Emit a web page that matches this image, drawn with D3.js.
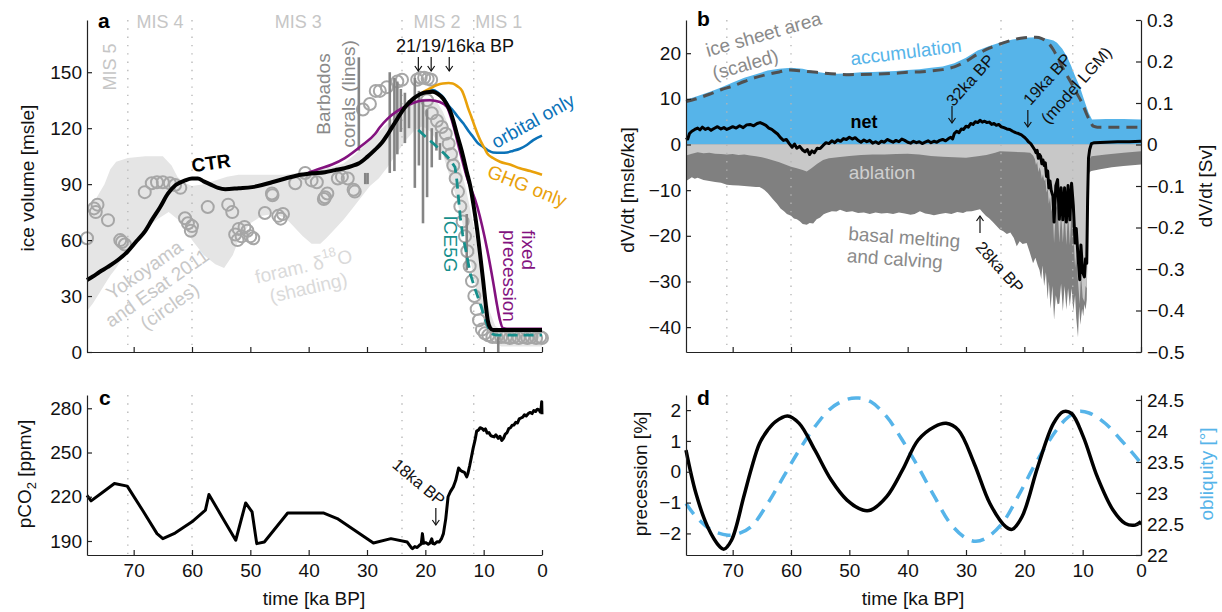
<!DOCTYPE html>
<meta charset="utf-8">
<style>
  body { margin: 0; background: #fff; }
  svg text { font-family: "Liberation Sans", Arial, Helvetica, sans-serif; }
  .axis path, .axis line { stroke: #222; stroke-width: 1.2; }
  .axis text { font-size: 19px; fill: #111; font-family: "Liberation Sans", Arial, sans-serif; }
</style>
<body>
<svg id="fig" width="1222" height="612"></svg>
<script src="https://cdn.jsdelivr.net/npm/d3@7"></script>
<script>
// ---------- data (ka BP, value) ----------
var xTicks = [70, 60, 50, 40, 30, 20, 10, 0];
var misBounds = [71, 60, 24, 11.7];
var misNames = [["MIS 4", 65.5], ["MIS 3", 41.8], ["MIS 2", 18], ["MIS 1", 7.4]];

// panel a: ice volume [msle]
var ctr = [[78,38.6],[77,40.5],[75.8,43],[74.5,45.5],[72.7,49.3],[71,54],[69.5,59.5],[68,65],[66.9,70.7],[65.5,77.5],[64.1,85],[62.8,89.5],[61.2,92],[60,93],[59,93],[58,91.5],[56.6,89.5],[55.5,88],[54.3,87.3],[52,87.8],[49.7,88.4],[48,89.5],[46.3,91],[44,93],[41.8,94.8],[39.5,95.8],[37.2,96.4],[35.5,97.5],[33.8,98.6],[32.5,99.8],[31.5,101],[30,104.5],[28.6,108.5],[27.5,112],[26.6,116],[25.8,120],[24.8,125],[24,129],[23,133],[22,136],[20.9,138.2],[19.8,139.3],[18.7,139.5],[17.8,138.3],[17,136],[16.4,133.2],[15.8,129.6],[15.2,124],[14.6,117],[14,110.5],[13.5,104.6],[12.9,96.5],[12.3,89],[11.7,78],[11.1,65],[10.6,52],[10.1,38.6],[9.7,27],[9.3,17],[8.9,13],[8.4,11.8],[0,11.8]];
var orbitalOnly = [[20.9,138.2],[19.8,139.6],[18.7,140.4],[17.8,139],[17,136.8],[16,132],[15.3,129.6],[14.4,126],[13.5,122.6],[12.6,118.5],[11.8,115.3],[11,112],[10.1,110],[9.2,108],[8.4,107],[7,106.8],[6,107],[5,107.8],[3.8,109],[2.6,111],[1.5,113.6],[0,116]];
var ghgOnly = [[20.9,138.2],[20,140],[19.2,141.3],[18,143.2],[17,144],[16,144.2],[15.3,144],[14.5,142.5],[13.7,140],[13.2,136],[12.7,131],[12.1,126],[11.5,120.6],[10.6,113.6],[9.9,109.5],[9.4,106.5],[8.4,104],[7.2,102],[5.5,100.5],[3.8,98.5],[2,97],[0,95]];
var fixedPrecession = [[40,96.2],[38.4,98],[36,100.5],[33.8,104],[31,110.5],[28.6,117],[27.8,120.5],[26.5,125],[24.9,129],[23.5,131.5],[22.1,133.5],[20.5,134.8],[19.2,135],[17.5,134],[16.3,131.4],[15.3,122.6],[14.1,108],[12.9,94],[11.1,78],[9.4,55],[8.4,38],[7.7,25],[7.2,17],[6.7,12.8],[6,12.5],[0,12.5]];
var ice5g = [[21.2,119],[20,115.5],[18.7,112],[17.5,108.5],[16.3,105],[15.5,102],[14.9,99],[14.6,92],[14.3,82],[14,72],[13.6,63],[12.9,52],[12.3,42],[11.5,34],[10.6,26],[9.8,18],[9.1,12],[8.4,9.5],[7.8,9],[0,9]];
var foramUpper = [[78,78],[76.5,82],[75,90],[74,98],[73,102],[71,104],[68,105],[65,105],[63.5,100],[62.5,94],[61.5,91],[60,89],[58,90],[56,92],[54,94],[52,95],[48,95],[44,95],[42,96],[40,97],[38,98],[36,99],[34,101],[32,106],[30,112],[28,118],[26,124],[24,130],[22,134],[20,136],[19,136],[18,134],[17,129],[16,121],[15,111],[14,99],[13,87],[12,72],[11,55],[10,38],[9,22],[8,14],[7,12],[4,12],[0,11]];
var foramLower = [[78,22],[77,26],[76,31],[75,36],[74,41],[73,45],[72,50],[71,55],[70,59],[68,66],[66,71],[64,75],[62,70],[60,60],[58,52],[56,47],[54.5,45],[53,52],[52,60],[50,69],[48,73],[46,74],[44,72],[42.5,67],[41,62],[39.5,58],[38,58],[37,61],[35.5,66],[34,71],[32.5,77],[31,83],[29.5,89],[28,93],[26.5,99],[25,106],[23.5,113],[21.8,119],[20.5,121],[19,118],[18,113],[17,106],[16,96],[15,86],[14,74],[13,60],[12,45],[11,30],[10,18],[9,9],[8,5],[7,3],[0,3]];
var yokoyama = [[78,61],[76.8,77],[76.2,79],[76.5,75],[74.4,70.7],[72.3,60],[72,59],[71.5,57.6],[68.1,85.7],[66.9,90.5],[66,91],[65,91],[63.8,90.5],[62.9,89.5],[62,88],[61.2,71.7],[60.7,69],[60,67.5],[60.2,65],[57.3,77.7],[53.8,79],[53.1,75],[52.6,63],[52,66],[51.5,62],[51,67],[50.5,65],[50,62],[49.5,61],[52.2,60],[47.5,74.5],[46.3,85],[46.2,84],[45.2,73],[44.8,71.5],[44.4,74],[42.3,90.5],[40.6,96],[39.5,92],[38.6,91],[37.2,83],[36.8,85],[37.4,82],[35,93],[34.3,94],[33.3,93],[32.3,87],[32.1,86],[30.7,130],[29.5,133],[28.5,140],[27.8,140],[26.6,142],[24.8,145],[24,146],[21.4,146],[20.8,147],[20.2,147],[19.6,146.5],[19,146],[19.7,135],[18.9,128],[18,124],[17.2,120.6],[16.5,117],[16,111.7],[15.6,106],[15.2,100],[14.8,93],[14.4,86],[14,78],[13.6,70],[13.2,62],[12.8,54],[12.4,46],[12,38],[11.6,30],[11.2,23],[10.8,17],[10.3,12],[9.8,10],[9.2,9],[8.5,8],[7.8,8],[7,8],[6.2,8],[5.5,7.5],[4.8,8],[4,7.5],[3.2,8],[2.5,7.5],[1.8,8],[1,7.5],[0.3,8],[0,7.5]];
var barbados = [[31.4,158,108],[30.3,96,90],[29.9,96,90],[26.1,150,96],[25.3,147,97],[24.8,145,106],[24.2,141,118],[23.5,139,112],[22.8,135,120],[21.8,147,88],[21.1,140,100],[20.4,135,69],[19.7,130,83],[18.9,120,99],[18.1,118,108],[17.5,112,103],[12.9,74,44],[7.5,8,0]];

// panel b: dV/dt [msle/ka]
var accumulation = [[78,9.8],[76,10.6],[74,11.5],[72,12.5],[70,13.6],[68,14.6],[66,15.4],[64,16.2],[62,16.6],[60,16.8],[58,16.6],[56,16],[54,15.6],[52,15.5],[50,15.6],[48,15.8],[46,15.9],[44,16],[42,16.1],[40,16.3],[38,16.5],[36,16.8],[34,17.1],[32,17.8],[30,19],[28,20.6],[26,21.6],[24,22.4],[22,23],[20,23.4],[18,23.5],[16,23.1],[15,22.8],[14.4,22.3],[13.5,21],[12.7,19.3],[12,17.3],[11.3,15],[10.5,12.7],[9.6,9.2],[9,7],[8.4,5.5],[6,5.6],[3,5.6],[0,5.5]];
var areaScaled = [[78,9.4],[76,10.1],[74,11],[72,12],[70,12.8],[68,13.8],[66,14.7],[64.2,15.3],[62,15.9],[60.2,16.3],[58,16.1],[55.6,15.8],[52,15.4],[50,15.3],[46,15.4],[42,15.6],[40,15.8],[38,15.9],[36,16.1],[34,16.4],[32,17],[30,18.2],[28,19.8],[26,21.1],[24,22.1],[22,22.9],[20,23.4],[18,23.5],[17,23.2],[16,22.4],[15,20.7],[14,18.2],[13,15.8],[12,13.6],[11,11.2],[10,8.8],[9.3,6.6],[8.6,4.8],[8.2,4],[7.5,3.8],[0,3.8]];
var ablation = [[78,-2.4],[77,-2],[76,-1.7],[75,-1.9],[74,-1.8],[73,-2],[72,-2.1],[71,-2.2],[70,-2.1],[69,-2.3],[68,-2.2],[67,-2.4],[66,-2.6],[65,-2.8],[64,-3.1],[63,-3.5],[62,-3.9],[61,-4.4],[60,-4.9],[59,-5.2],[58,-5.6],[57.3,-5.9],[56.5,-5.2],[55.5,-4.2],[54.5,-3.4],[53.5,-3],[52,-2.8],[50,-2.5],[48,-2.3],[46,-2.2],[44,-2.2],[42,-2.1],[40,-2],[38,-2.2],[36,-2.5],[34,-2.7],[32,-2.8],[30,-2.9],[28,-2.6],[26.5,-2.3],[25,-1.8],[24.2,-1.5],[22,-1.6],[20,-1.7],[19,-1.8],[18.5,-2.4],[18.2,-3.2],[18,-4.5],[17.8,-3.8],[17.6,-6],[17.4,-5],[17.2,-5.8],[17,-7.5],[16.8,-6.5],[16.6,-8],[16.4,-7.5],[16.2,-10.5],[16,-9.5],[15.8,-13],[15.6,-11.5],[15.4,-14],[15.1,-15.5],[14.9,-21.5],[14.6,-14],[14.3,-13],[14,-21.5],[13.7,-14.5],[13.4,-21.5],[13.1,-14.5],[12.8,-22],[12.5,-14.5],[12.2,-22],[11.9,-14],[11.6,-19],[11.3,-27],[11.1,-24],[10.8,-30],[10.5,-35],[10.3,-28],[10,-33.5],[9.7,-34.5],[9.5,-31],[9.3,-31.5],[9.15,-17],[9,-6],[8.8,-3.2],[8.5,-2.6],[6,-2.2],[3,-1.8],[0,-1.5]];
var totalLoss = [[78,-8],[77.5,-7.6],[77,-7.2],[76.5,-7.5],[76,-7.3],[75,-7.8],[74,-8],[73,-8.2],[72,-8.4],[71,-8.8],[70,-8.9],[69,-9],[68,-9.1],[67,-9.2],[66,-9.3],[65.4,-9.3],[64.6,-9.9],[64,-10.6],[63.1,-12],[62.4,-13],[61.8,-14],[61.2,-14.6],[60.7,-15.2],[60,-15.6],[59.5,-16.2],[59,-16.4],[58.5,-16.8],[58,-17.4],[57.3,-17.6],[56.8,-17.2],[56.2,-17.3],[55.6,-16.4],[55,-16],[54.4,-15.3],[53.9,-15],[53,-14.6],[52.2,-14.7],[51.6,-14.3],[50.5,-14.8],[49.5,-14.6],[48.5,-15],[47.5,-14.9],[46.5,-15.2],[45.5,-14.9],[44.5,-15.1],[43.5,-15],[42.5,-15.2],[41.5,-14.9],[40.5,-15.1],[39.5,-15.4],[38.8,-15.2],[37.9,-14.6],[37,-15.1],[36.2,-15.3],[35.5,-15.5],[34.5,-15.2],[33.5,-15],[32.5,-15.2],[31.5,-14.8],[30.5,-15],[29.9,-14.7],[29,-14.6],[28.3,-14.4],[27.6,-14.2],[27.2,-14.8],[26.6,-15.6],[26,-16.2],[25.4,-17],[24.8,-17.8],[24.2,-18.6],[23.6,-19],[23,-19.6],[22.4,-19.3],[21.8,-20.5],[21.3,-22.3],[20.8,-21.2],[20.3,-21.8],[19.6,-21.6],[19.1,-23.5],[18.5,-26],[18.1,-24.8],[17.7,-26.5],[17.4,-27.5],[17.1,-29.5],[16.9,-26.5],[16.6,-31],[16.3,-28],[16,-34],[15.8,-30],[15.5,-36],[15.2,-31],[14.9,-38.4],[14.6,-33],[14.3,-35],[14,-34.8],[13.7,-30.5],[13.4,-36.5],[13.1,-31],[12.8,-36.2],[12.5,-31.5],[12.2,-35.5],[11.9,-31.5],[11.6,-36.5],[11.3,-33],[11.1,-38],[10.8,-42.3],[10.6,-35.5],[10.4,-39.5],[10.1,-36],[9.9,-37.6],[9.7,-35],[9.5,-36.2],[9.3,-34],[9.15,-20],[9,-7],[8.8,-6],[8.5,-5.8],[7,-5.4],[5,-5],[3,-4.7],[0,-4.4]];
var netBalance = [[78,1.5],[77.7,1.2],[77.4,2.4],[77,2.9],[76.5,3.3],[76,3.6],[75.6,3.2],[75.2,3.8],[74.7,3.3],[74.2,3.6],[73.7,3.1],[73.2,3.5],[72.6,3.9],[72,3.4],[71.5,3.7],[71,3.3],[70.5,3.6],[70,3.9],[69.4,3.6],[68.8,4.1],[68.2,3.7],[67.6,4.3],[67,4.4],[66.4,4.1],[65.8,4.6],[65.3,4.8],[64.8,4.5],[64.3,4.2],[63.8,3.6],[63.3,3.3],[62.8,2.8],[62.3,2.3],[61.8,1.5],[61.3,0.9],[60.8,1.1],[60.3,0.2],[59.8,-0.6],[59.4,0.1],[59,-0.8],[58.5,-0.4],[58,-1.2],[57.6,-1.6],[57.2,-1.1],[56.8,-2.2],[56.4,-1.4],[56,-1.8],[55.5,-0.8],[55,-0.9],[54.5,-0.2],[54,0.4],[53.5,0.2],[53,0.8],[52.5,0.4],[52,1],[51.5,0.7],[51,1.3],[50.5,1.1],[50,1.6],[49.5,1.2],[49,1.5],[48.5,0.9],[48,0.5],[47.5,1],[47,0.6],[46.5,0.9],[46,0.3],[45.5,0.6],[45,0.2],[44.5,0.7],[44,0.5],[43.5,1.1],[43,0.8],[42.5,0.5],[42,0.9],[41.5,0.6],[41,1.2],[40.5,0.9],[40,0.5],[39.5,0.3],[39,0.7],[38.5,0.4],[38,0.6],[37.5,0.2],[37,0.5],[36.5,0.8],[36,0.4],[35.5,0.7],[35,0.5],[34.5,0.9],[34,1.1],[33.5,0.8],[33,1.3],[32.6,1.6],[32.3,1.2],[32,2.4],[31.6,2.9],[31.2,2.6],[30.8,3.4],[30.4,3.3],[30,4],[29.6,3.8],[29.2,4.6],[28.8,4.4],[28.4,5],[28,4.8],[27.6,5.3],[27.2,4.9],[26.8,5.1],[26.4,4.8],[26,4.9],[25.6,4.4],[25.2,4.6],[24.8,4.2],[24.4,4.4],[24,3.9],[23.5,3.7],[23,3.4],[22.5,3.3],[22,2.9],[21.5,2.6],[21,2.4],[20.5,2.1],[20,1.6],[19.6,1.1],[19.3,0.6],[18.9,0.2],[18.5,-0.6],[18.2,-1.2],[18,-1.8],[17.8,-1.3],[17.6,-3],[17.4,-2.2],[17.2,-2.6],[17,-4.2],[16.8,-3.4],[16.6,-4.6],[16.4,-4],[16.2,-7],[16,-5.8],[15.8,-9.5],[15.6,-8],[15.4,-10],[15.1,-11.3],[14.9,-17],[14.6,-9],[14.3,-7.7],[14,-16.4],[13.7,-9.5],[13.4,-16.5],[13.1,-9.5],[12.8,-17],[12.5,-9],[12.2,-16.5],[11.9,-8.5],[11.6,-13.5],[11.3,-21.6],[11.1,-18.4],[10.8,-24.5],[10.5,-29.6],[10.3,-22],[10,-28],[9.7,-29],[9.5,-25],[9.3,-26],[9.15,-12],[9,-3],[8.8,-1.1],[8.5,0.2],[8,0.4],[6,0.5],[4,0.6],[2,0.6],[0,0.7]];

// panel c: pCO2 [ppmv]
var co2 = [[78,221],[77.3,217.2],[75.3,223],[73.3,229],[71.1,227.2],[68.5,211],[66,195],[65,191.6],[62.9,195.4],[60,203],[57.7,210.9],[57.1,221.5],[54.8,206],[52.5,190.5],[50.8,215.8],[49.7,209.7],[48.9,188.2],[47.6,189.3],[43.6,209],[37.5,209],[35.1,205.2],[32,197],[28.9,188.6],[25.9,191.6],[23.1,189.3],[22.4,185.5],[22.2,184.8],[21.8,186.2],[21.4,185.6],[20.9,187.5],[20.7,188],[20.5,195],[20.3,188.5],[19.9,188.9],[19.5,187.8],[19.2,188.6],[18.9,191.5],[18.7,188.2],[18.4,188],[18,189.5],[17.6,189.3],[17.2,191.8],[16.9,195],[16.5,205],[16.1,220],[15.7,223.5],[15.2,226.7],[14.8,231],[14.5,236],[14.3,239.5],[14,238],[13.6,237],[13.3,236.5],[12.9,233.5],[12.7,235.8],[12.4,241],[12.1,247],[11.8,253],[11.5,258],[11.2,264.5],[10.9,265.2],[10.6,266.8],[10.3,266.4],[10,265],[9.7,266],[9.4,263.2],[9.1,263.5],[8.8,261.5],[8.5,261],[8.2,260.6],[7.9,262],[7.5,259.6],[7.2,261],[6.9,258.2],[6.6,259.6],[6.3,262.5],[6,263.4],[5.7,266.2],[5.4,266.8],[5.1,268.5],[4.8,268.7],[4.5,270.5],[4.2,270],[3.9,272.8],[3.6,273.4],[3.3,274],[3,275.6],[2.7,274.8],[2.3,276.6],[2,277.2],[1.7,276.4],[1.4,278.5],[1.1,277.8],[0.8,279.4],[0.5,278.9],[0.3,277.5],[0.15,280],[0.05,284.5],[0,276]];

// panel d: precession [%] and obliquity [deg]
var precession = [[78,0.7],[76.3,-0.7],[74.3,-1.78],[72.2,-2.43],[71.5,-2.51],[70.2,-2.22],[68.1,-0.81],[66.8,0.1],[65.4,0.92],[64,1.35],[62.7,1.62],[60.6,1.81],[58.6,1.57],[55.9,0.7],[53.1,-0.27],[50.4,-0.92],[47.7,-1.24],[46.3,-1.24],[43.6,-0.81],[40.9,0.05],[38.2,1.03],[35.4,1.46],[33.4,1.57],[31.3,1.35],[28.6,0.27],[25.9,-1.03],[23.2,-1.78],[22.1,-1.87],[20.4,-1.46],[17.7,0.16],[15,1.57],[13.3,1.95],[11.9,1.89],[9.9,1.14],[7.5,-0.16],[4.8,-1.24],[2.7,-1.68],[1,-1.73],[0,-1.62]];
var obliquity = [[78,22.83],[76.3,22.62],[73.6,22.4],[70.8,22.32],[69.1,22.34],[66.8,22.46],[64,22.83],[61.3,23.26],[58.6,23.69],[55.9,24.07],[53.1,24.37],[50.4,24.51],[48.4,24.53],[46.3,24.47],[43.6,24.23],[40.9,23.85],[38.2,23.42],[35.4,22.94],[32.7,22.51],[30,22.27],[28.3,22.22],[26.6,22.27],[23.8,22.51],[21.1,22.94],[18.4,23.42],[15.7,23.85],[13,24.18],[10.9,24.31],[8.9,24.29],[6.1,24.12],[3.4,23.85],[1.4,23.64],[0,23.48]];

// ---------- drawing ----------
var svg = d3.select("#fig");
svg.append("rect").attr("width", 1222).attr("height", 612).attr("fill", "#fff");

var xa = d3.scaleLinear().domain([78, 0]).range([87, 542]);
var xb = d3.scaleLinear().domain([78, 0]).range([686, 1141]);
var ya = d3.scaleLinear().domain([0, 178]).range([352, 20]);
var ybL = d3.scaleLinear().domain([-45.45, 27.27]).range([352, 20]);
var ybR = d3.scaleLinear().domain([-0.5, 0.3]).range([352, 20]);
var yc = d3.scaleLinear().domain([180.5, 289]).range([555, 395]);
var yd = d3.scaleLinear().domain([-2.7, 2.49]).range([555, 395]);
var ydR = d3.scaleLinear().domain([22, 24.58]).range([555, 395]);

var blue = "#56B4E9";

function lineOf(x, y) {
    return d3.line().x(function (d) { return x(d[0]); }).y(function (d) { return y(d[1]); });
}

function dotted(x, top, bottom) {
    svg.append("g").selectAll("line").data(misBounds).enter().append("line")
        .attr("x1", function (d) { return x(d); }).attr("x2", function (d) { return x(d); })
        .attr("y1", top).attr("y2", bottom)
        .attr("stroke", "#b4b4b4").attr("stroke-width", 1.3)
        .attr("stroke-dasharray", "1.4,6.9");
}

function bottomAxis(x, y0, withLabels) {
    svg.append("g").attr("class", "axis").attr("transform", "translate(0," + y0 + ")")
        .call(d3.axisBottom(x).tickValues(xTicks).tickSizeInner(-5).tickSizeOuter(0).tickPadding(9)
            .tickFormat(withLabels ? d3.format("d") : ""));
}

function leftAxis(y, x0, ticks, fmt) {
    return svg.append("g").attr("class", "axis").attr("transform", "translate(" + x0 + ",0)")
        .call(d3.axisLeft(y).tickValues(ticks).tickSizeInner(-5).tickSizeOuter(0).tickPadding(5).tickFormat(fmt));
}

function rightAxis(y, x0, ticks, fmt) {
    return svg.append("g").attr("class", "axis").attr("transform", "translate(" + x0 + ",0)")
        .call(d3.axisRight(y).tickValues(ticks).tickSizeInner(-5).tickSizeOuter(0).tickPadding(6).tickFormat(fmt));
}

// text helper: lines centred on (cx, cy), rotated
function note(cx, cy, rot, lines, opt) {
    opt = opt || {};
    var lh = opt.lh || 22;
    var g = svg.append("g").attr("transform", "translate(" + cx + "," + cy + ") rotate(" + rot + ")");
    lines.forEach(function (s, i) {
        g.append("text")
            .attr("x", 0).attr("y", (i - (lines.length - 1) / 2) * lh)
            .attr("dominant-baseline", "central")
            .attr("text-anchor", opt.anchor || "middle")
            .attr("font-size", opt.size || 19)
            .attr("font-weight", opt.bold ? "bold" : null)
            .attr("fill", opt.color || "#111")
            .text(s);
    });
    return g;
}

function arrow(x, y1, y2) {
    // y1 = tail, y2 = head
    var s = y2 > y1 ? -1 : 1;
    var g = svg.append("g").attr("stroke", "#111").attr("stroke-width", 1.2).attr("fill", "none");
    g.append("line").attr("x1", x).attr("x2", x).attr("y1", y1).attr("y2", y2);
    g.append("path").attr("d", "M" + (x - 3.5) + "," + (y2 + s * 5) + "L" + x + "," + y2 + "L" + (x + 3.5) + "," + (y2 + s * 5));
}

function panelLetter(x, y, s) {
    svg.append("text").attr("x", x).attr("y", y).attr("font-size", 21).attr("font-weight", "bold").attr("fill", "#000").text(s);
}

// ===== panel a =====
svg.append("path")
    .datum(foramUpper.concat(foramLower.slice().reverse()))
    .attr("d", lineOf(xa, ya).curve(d3.curveLinearClosed))
    .attr("fill", "#e5e5e5").attr("stroke", "none");
dotted(xa, 20, 352);

svg.append("g").selectAll("circle").data(yokoyama).enter().append("circle")
    .attr("cx", function (d) { return xa(d[0]); }).attr("cy", function (d) { return ya(d[1]); })
    .attr("r", 6).attr("fill", "none").attr("stroke", "#a6a6a6").attr("stroke-width", 2);

svg.append("g").selectAll("line").data(barbados).enter().append("line")
    .attr("x1", function (d) { return xa(d[0]); }).attr("x2", function (d) { return xa(d[0]); })
    .attr("y1", function (d) { return ya(d[1]); }).attr("y2", function (d) { return ya(d[2]); })
    .attr("stroke", "#858585").attr("stroke-width", 2.6);

svg.append("path").datum(ice5g).attr("d", lineOf(xa, ya)).attr("fill", "none")
    .attr("stroke", "#178F8C").attr("stroke-width", 2.8).attr("stroke-dasharray", "10,6");
svg.append("path").datum(fixedPrecession).attr("d", lineOf(xa, ya).curve(d3.curveMonotoneX)).attr("fill", "none")
    .attr("stroke", "#83127F").attr("stroke-width", 2.6);
svg.append("path").datum(orbitalOnly).attr("d", lineOf(xa, ya).curve(d3.curveMonotoneX)).attr("fill", "none")
    .attr("stroke", "#0B72B8").attr("stroke-width", 2.6);
svg.append("path").datum(ghgOnly).attr("d", lineOf(xa, ya).curve(d3.curveMonotoneX)).attr("fill", "none")
    .attr("stroke", "#E9A10A").attr("stroke-width", 2.6);
svg.append("path").datum(ctr).attr("d", lineOf(xa, ya).curve(d3.curveMonotoneX)).attr("fill", "none")
    .attr("stroke", "#000").attr("stroke-width", 4);

leftAxis(ya, 87, [0, 30, 60, 90, 120, 150], d3.format("d"));
bottomAxis(xa, 352, false);

misNames.forEach(function (m) {
    svg.append("text").attr("x", xa(m[1])).attr("y", 28).attr("text-anchor", "middle")
        .attr("font-size", 18).attr("fill", "#c6c6c6").text(m[0]);
});
note(110, 67, -90, ["MIS 5"], { size: 18, color: "#c6c6c6" });
panelLetter(98, 28, "a");
note(27, 178, -90, ["ice volume [msle]"], { size: 19 });

note(211, 163, -8, ["CTR"], { size: 19, bold: true, color: "#000" });
note(336, 94, -90, ["Barbados", "corals (lines)"], { size: 19, color: "#8a8a8a", lh: 25 });
note(455, 46, 0, ["21/19/16ka BP"], { size: 18 });
[21.2, 19, 15.9].forEach(function (k) { arrow(xa(k), 57, 71); });
note(533, 121, -29, ["orbital only"], { color: "#0B72B8" });
note(527, 186, 22, ["GHG only"], { color: "#E9A10A" });
note(519, 230, 90, ["fixed", "precession"], { color: "#83127F", lh: 19, anchor: "start" });
note(450, 244, 90, ["ICE5G"], { color: "#178F8C" });
note(157, 288, -35, ["Yokoyama", "and Esat 2011", "(circles)"], { color: "#c8c8c8", lh: 22 });
var fg = note(306, 277, -13, ["foram. \u03B4", "(shading)"], { color: "#dadada", lh: 22 });
fg.select("text").append("tspan").attr("baseline-shift", "super").attr("font-size", 13).text("18");
fg.select("text").append("tspan").text("O");

// ===== panel b =====
svg.append("path").datum(accumulation)
    .attr("d", d3.area().x(function (d) { return xb(d[0]); }).y0(ybL(0)).y1(function (d) { return ybL(d[1]); }))
    .attr("fill", blue);
svg.append("path").datum(totalLoss)
    .attr("d", d3.area().x(function (d) { return xb(d[0]); }).y0(ybL(0)).y1(function (d) { return ybL(d[1]); }))
    .attr("fill", "#808080");
svg.append("path").datum(ablation)
    .attr("d", d3.area().x(function (d) { return xb(d[0]); }).y0(ybL(0)).y1(function (d) { return ybL(d[1]); }))
    .attr("fill", "#c8c8c8");
dotted(xb, 20, 352);
svg.append("path").datum(areaScaled).attr("d", lineOf(xb, ybL).curve(d3.curveMonotoneX)).attr("fill", "none")
    .attr("stroke", "#505050").attr("stroke-width", 3).attr("stroke-dasharray", "11,7");
svg.append("path").datum(netBalance).attr("d", lineOf(xb, ybL)).attr("fill", "none")
    .attr("stroke", "#000").attr("stroke-width", 3).attr("stroke-linejoin", "round");

leftAxis(ybL, 686, [-40, -30, -20, -10, 0, 10, 20], d3.format("d"));
rightAxis(ybR, 1141, [-0.5, -0.4, -0.3, -0.2, -0.1, 0, 0.1, 0.2, 0.3],
    function (d) { return Math.abs(d) < 1e-9 ? "0" : d3.format(".1f")(d); });
bottomAxis(xb, 352, false);
panelLetter(697, 26, "b");
note(627, 190, -90, ["dV/dt [msle/ka]"]);
note(1205, 186, -90, ["dV/dt [Sv]"]);

var isa = svg.append("g").attr("transform", "translate(708,57) rotate(-16)");
isa.append("text").attr("font-size", 19).attr("fill", "#8a8a8a").text("ice sheet area");
isa.append("text").attr("y", 24).attr("font-size", 19).attr("fill", "#8a8a8a").text("(scaled)");
note(906, 52, -7, ["accumulation"], { color: blue });
note(864, 122, 0, ["net"], { bold: true, color: "#000", size: 18 });
note(882, 172, 0, ["ablation"], { color: "#cfcfcf" });
var bm = svg.append("g").attr("transform", "translate(848,240) rotate(4)");
bm.append("text").attr("font-size", 19).attr("fill", "#8a8a8a").text("basal melting");
bm.append("text").attr("y", 22).attr("font-size", 19).attr("fill", "#8a8a8a").text("and calving");
note(1000, 267, 48, ["28ka BP"], { size: 16.5 });
arrow(xb(27.6), 233, 216);
note(970, 80, -48, ["32ka BP"], { size: 16.5 });
arrow(xb(32.4), 106, 123);
note(1047, 79, -48, ["19ka BP"], { size: 16.5 });
note(1076, 85, -48, ["(model LGM)"], { size: 16.5 });
arrow(xb(19.4), 110, 127);

// ===== panel c =====
dotted(xa, 395, 555);
svg.append("path").datum(co2).attr("d", lineOf(xa, yc)).attr("fill", "none")
    .attr("stroke", "#000").attr("stroke-width", 3).attr("stroke-linejoin", "round");
leftAxis(yc, 87, [190, 220, 250, 280], d3.format("d"));
bottomAxis(xa, 555, true);
panelLetter(99, 405, "c");
note(314, 598, 0, ["time [ka BP]"]);
var pc = note(24, 474, -90, ["pCO"]);
pc.select("text").append("tspan").attr("baseline-shift", "sub").attr("font-size", 13).text("2");
pc.select("text").append("tspan").text(" [ppmv]");
note(419, 482, 40, ["18ka BP"], { size: 16.5 });
arrow(xa(18.2), 508, 525);

// ===== panel d =====
dotted(xb, 395, 555);
svg.append("path").datum(obliquity).attr("d", lineOf(xb, ydR).curve(d3.curveCatmullRom)).attr("fill", "none")
    .attr("stroke", blue).attr("stroke-width", 3.5).attr("stroke-dasharray", "13,9");
svg.append("path").datum(precession).attr("d", lineOf(xb, yd).curve(d3.curveCatmullRom)).attr("fill", "none")
    .attr("stroke", "#000").attr("stroke-width", 3.5);
leftAxis(yd, 686, [-2, -1, 0, 1, 2], d3.format("d"));
var ra = rightAxis(ydR, 1141, [22, 22.5, 23, 23.5, 24, 24.5], d3.format("~g"));
ra.selectAll("path, line").attr("stroke", blue);
ra.selectAll("text").attr("fill", blue);
bottomAxis(xb, 555, true);
panelLetter(697, 405, "d");
note(913, 598, 0, ["time [ka BP]"]);
note(640, 474, -90, ["precession [%]"]);
note(1206, 474, -90, ["obliquity [\u00B0]"], { color: blue });
</script>
</body>
